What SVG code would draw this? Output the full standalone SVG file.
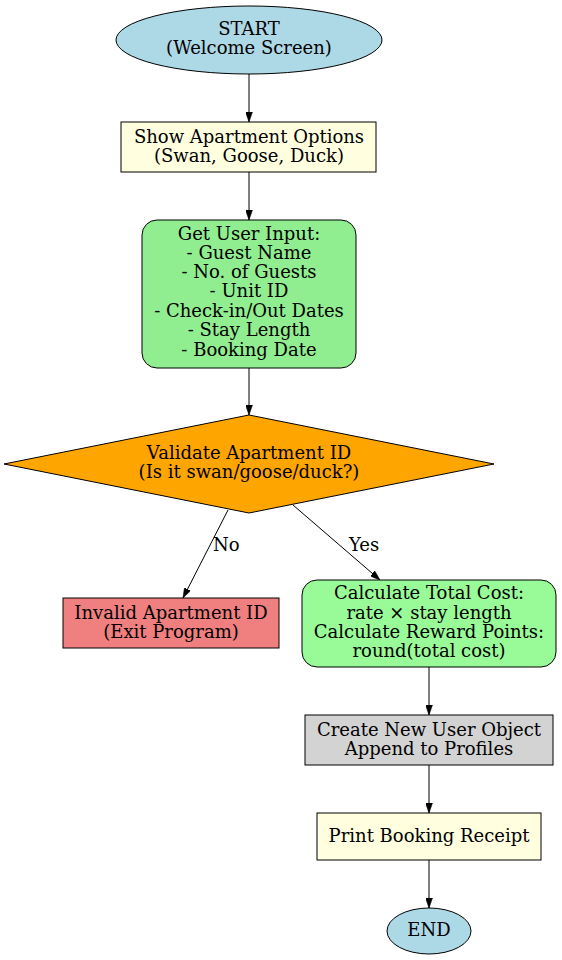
<svg xmlns="http://www.w3.org/2000/svg" width="562" height="960" viewBox="0 0 562 960">
<style>
text{font-family:"DejaVu Serif","Liberation Serif",serif;font-size:18px;fill:#000;text-anchor:middle}
.s{stroke:#000;stroke-width:1}
.e{stroke:#000;stroke-width:1;fill:none}
.l{text-anchor:start}
</style>
<defs>
<marker id="a" viewBox="0 0 10 7" refX="10" refY="3.5" markerWidth="10" markerHeight="7" markerUnits="userSpaceOnUse" orient="auto">
<path d="M0,0 L10,3.5 L0,7 Z" fill="#000" stroke="#000" stroke-width="0.5"/>
</marker>
</defs>
<rect width="562" height="960" fill="#fff"/>
<g id="connectors">
<line class="e" x1="249" y1="74" x2="249" y2="122" marker-end="url(#a)"/>
<line class="e" x1="249" y1="172" x2="249" y2="220" marker-end="url(#a)"/>
<line class="e" x1="249" y1="368" x2="249" y2="415" marker-end="url(#a)"/>
<line class="e" x1="228" y1="510" x2="183" y2="598" marker-end="url(#a)"/>
<text class="l" x="213" y="551">No</text>
<line class="e" x1="293" y1="505" x2="380" y2="580" marker-end="url(#a)"/>
<text class="l" x="349" y="551">Yes</text>
<line class="e" x1="429" y1="667" x2="429" y2="715" marker-end="url(#a)"/>
<line class="e" x1="429" y1="765" x2="429" y2="813" marker-end="url(#a)"/>
<line class="e" x1="429" y1="860" x2="429" y2="908" marker-end="url(#a)"/>
</g>
<g id="start">
<ellipse class="s" cx="249" cy="40" rx="133" ry="34" fill="#add8e6"/>
<text x="249" y="35">START</text>
<text x="249" y="54">(Welcome Screen)</text>
</g>
<g id="options">
<rect class="s" x="121" y="122" width="255" height="50" fill="#ffffe0"/>
<text x="249" y="143">Show Apartment Options</text>
<text x="249" y="162">(Swan, Goose, Duck)</text>
</g>
<g id="input">
<rect class="s" x="142" y="220" width="214" height="148" rx="15" ry="15" fill="#90ee90"/>
<text x="249" y="240">Get User Input:</text>
<text x="249" y="259">- Guest Name</text>
<text x="249" y="278">- No. of Guests</text>
<text x="249" y="297">- Unit ID</text>
<text x="249" y="317">- Check-in/Out Dates</text>
<text x="249" y="336">- Stay Length</text>
<text x="249" y="356">- Booking Date</text>
</g>
<g id="validate">
<polygon class="s" points="249,415 494,464 249,513 4,464" fill="#ffa500"/>
<text x="249" y="459">Validate Apartment ID</text>
<text x="249" y="478">(Is it swan/goose/duck?)</text>
</g>
<g id="invalid">
<rect class="s" x="63" y="598" width="216" height="50" fill="#f08080"/>
<text x="171" y="619">Invalid Apartment ID</text>
<text x="171" y="638">(Exit Program)</text>
</g>
<g id="calc">
<rect class="s" x="302" y="580" width="254" height="87" rx="15" ry="15" fill="#98fb98"/>
<text x="429" y="599">Calculate Total Cost:</text>
<text x="429" y="619">rate × stay length</text>
<text x="429" y="638">Calculate Reward Points:</text>
<text x="429" y="657">round(total cost)</text>
</g>
<g id="create">
<rect class="s" x="305" y="715" width="248" height="50" fill="#d3d3d3"/>
<text x="429" y="735.5">Create New User Object</text>
<text x="429" y="754.5">Append to Profiles</text>
</g>
<g id="print">
<rect class="s" x="317" y="813" width="224" height="47" fill="#ffffe0"/>
<text x="429" y="842">Print Booking Receipt</text>
</g>
<g id="end">
<ellipse class="s" cx="429" cy="931" rx="42" ry="23" fill="#add8e6"/>
<text x="429" y="936">END</text>
</g>
</svg>
